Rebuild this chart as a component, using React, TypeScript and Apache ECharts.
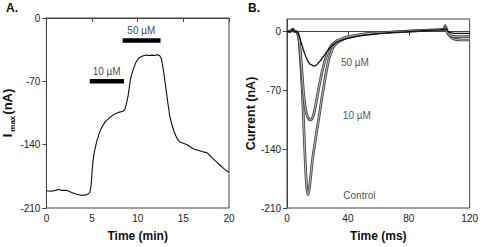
import React, { useEffect, useRef } from "react";
import * as echarts from "echarts";

// Panel A: Imax over time (min)
const timeMin = [0, 0.5, 1, 1.3, 1.7, 2.2, 2.7, 3.2, 3.8, 4.4, 4.75, 4.9, 5.0, 5.1, 5.25, 5.5, 5.8, 6.1, 6.5, 7.0, 7.5, 8.0, 8.4, 8.6, 8.8, 8.95, 9.1, 9.2, 9.35, 9.5, 9.8, 10.1, 10.4, 10.9, 11.3, 11.6, 11.9, 12.1, 12.4, 12.6, 12.85, 13.05, 13.25, 13.5, 13.75, 14.0, 14.3, 14.6, 15.0, 15.4, 15.8, 16.2, 16.7, 17.2, 17.6, 18.0, 18.5, 19.0, 19.5, 20.0];
const imax = [-191, -191.5, -190.5, -189.5, -190.5, -190.5, -192.5, -194.5, -196, -195.5, -193, -185, -170, -158, -148, -137, -127, -120, -114, -109.5, -106, -104, -103, -101, -93, -86, -75, -68, -62, -57, -49, -44.5, -42.5, -41, -41.5, -41, -41.5, -40.5, -41.5, -45, -60, -75, -90, -108, -118, -126, -133, -137, -138.5, -140, -142.5, -145, -146.5, -148, -149, -153, -158, -162.5, -167, -170.5];

// Drug application bars
const barStart = [4.75, 8.35];
const barEnd = [8.5, 12.5];
const barLevel = [-70, -25];
const barLabel = ["10 µM", "50 µM"];
const barLabelX = [6.6, 10.4];
const barLabelY = [-59, -14];

// Panel B: current traces (ms)
const timeMs = [0, 2, 3.8, 5, 6, 7, 8, 9, 10, 11, 12, 13, 14, 15, 16, 17, 18, 19, 20, 21, 22, 23, 24, 25, 26, 27, 28, 30, 32, 34, 37, 40, 45, 50, 55, 60, 70, 80, 90, 100, 103, 104, 105, 106, 108, 110, 115, 120];
const control = [0, 0, 3, 0, 0, -2, -12, -38, -70, -112, -155, -186, -194, -182, -165, -149, -137, -125, -113, -102, -90, -78, -67, -56, -46, -37, -30, -20, -15, -12, -9, -7, -5, -3.5, -2.5, -1.5, -0.5, 0.5, 1.5, 2, 3, 7, 2, -3, -7, -9, -10, -10];
const dose10 = [0, 0, 3, 0, 0, -2, -10, -28, -52, -75, -90, -99, -103, -105, -105, -102, -95, -86, -76, -66, -57, -48, -41, -34, -29, -24, -20, -15, -12, -10, -8, -6, -4.5, -3, -2, -1.5, -0.5, 0.5, 1.5, 2, 2.5, 5, 1, -3, -5, -6, -6, -6];
const dose50 = [0, 0, 3, 0, 0, -1, -5, -11, -17, -23, -28, -32.5, -36, -38.5, -39.5, -40.5, -41, -40, -38.5, -36.5, -34.5, -32, -29.5, -27, -24.5, -22, -19.5, -16, -13.5, -11.5, -9.5, -8, -6, -4.5, -3.5, -2.5, -1, 0, 1, 2, 2.5, 3.5, 1.5, 0, -1.5, -2, -2, -2];

const traceLabels = ["50 µM", "10 µM", "Control"];
const traceLabelX = [44.6, 45.9, 47.6];
const traceLabelY = [-37, -100, -195];

const yTicksB = [-210, -140, -70, 0];

const FONT = "'Liberation Sans Narrow', 'Arial Narrow', 'Liberation Sans', Arial, sans-serif";
const BOLD = "'Liberation Sans', Arial, sans-serif";
const AX = "#444";

export default function App() {
  const ref = useRef<HTMLDivElement>(null);
  useEffect(() => {
    if (!ref.current) return;
    const chart = echarts.init(ref.current, null, { renderer: "svg" });
    const axisCommon = {
      type: "value" as const,
      axisLine: { show: true, lineStyle: { color: AX, width: 1 } },
      axisTick: { show: true, inside: false, length: 4, lineStyle: { color: AX } },
      splitLine: { show: false },
      axisLabel: { fontFamily: FONT, fontSize: 10, color: "#222" },
      nameTextStyle: { fontFamily: BOLD, fontSize: 12, fontWeight: "bold" as const, color: "#111" },
    };
    const option: any = {
      animation: false,
      grid: [
        { left: 41, top: 18, width: 188, height: 191, show: true, borderColor: AX, borderWidth: 1 },
        { left: 287, top: 19, width: 189, height: 191, show: true, borderColor: AX, borderWidth: 1 },
      ],
      xAxis: [
        { ...axisCommon, gridIndex: 0, min: 0, max: 20, interval: 5, name: "Time (min)", nameLocation: "middle", nameGap: 22, axisLabel: { ...axisCommon.axisLabel, margin: 5 } },
        { ...axisCommon, gridIndex: 1, min: 0, max: 120, interval: 40, name: "Time (ms)", nameLocation: "middle", nameGap: 22, axisLabel: { ...axisCommon.axisLabel, margin: 5 } },
      ],
      yAxis: [
        {
          ...axisCommon, gridIndex: 0, min: -210, max: 0, interval: 70,
          axisLabel: { ...axisCommon.axisLabel, margin: 6 },
          name: "{a|I}{b|max}{a|(nA)}", nameLocation: "middle", nameRotate: 90, nameGap: 26,
          nameTextStyle: {
            rich: {
              a: { fontFamily: BOLD, fontSize: 13, fontWeight: "bold", color: "#111", lineHeight: 18, verticalAlign: "middle" },
              b: { fontFamily: BOLD, fontSize: 8, fontWeight: "bold", color: "#111", lineHeight: 18, verticalAlign: "bottom", padding: [0, 1, 0, 2] },
            },
          },
        },
        {
          ...axisCommon, gridIndex: 1, min: -210, max: 15, interval: 70,
          axisLabel: { ...axisCommon.axisLabel, margin: 6, customValues: yTicksB },
          axisTick: { ...axisCommon.axisTick, customValues: yTicksB },
          name: "Current (nA)", nameLocation: "middle", nameRotate: 90, nameGap: 30,
          nameTextStyle: { fontFamily: BOLD, fontSize: 12.5, fontWeight: "bold", color: "#111" },
        },
      ],
      series: [
        {
          type: "line", xAxisIndex: 0, yAxisIndex: 0, symbol: "none",
          lineStyle: { color: "#111", width: 1.1 },
          data: timeMin.map((t, i) => [t, imax[i]]),
        },
        ...barStart.map((s, i) => ({
          type: "line", xAxisIndex: 0, yAxisIndex: 0, symbol: "none",
          lineStyle: { color: "#000", width: 4.5, cap: "butt" },
          data: [[s, barLevel[i]], [barEnd[i], barLevel[i]]],
        })),
        {
          type: "scatter", xAxisIndex: 0, yAxisIndex: 0, symbolSize: 0,
          label: { show: true, position: "inside", formatter: (p: any) => p.value[2], fontFamily: FONT, fontSize: 10, color: "#111" },
          data: barLabel.map((l, i) => [barLabelX[i], barLabelY[i], l]),
        },
        {
          type: "line", xAxisIndex: 1, yAxisIndex: 1, symbol: "none", smooth: 0.3,
          lineStyle: { color: "#444", width: 2.7 },
          data: timeMs.map((t, i) => [t, control[i]]),
        },
        {
          type: "line", xAxisIndex: 1, yAxisIndex: 1, symbol: "none", smooth: 0.3,
          lineStyle: { color: "#c8c8c8", width: 0.9 },
          data: timeMs.map((t, i) => [t, control[i]]),
        },
        {
          type: "line", xAxisIndex: 1, yAxisIndex: 1, symbol: "none", smooth: 0.3,
          lineStyle: { color: "#444", width: 2.7 },
          data: timeMs.map((t, i) => [t, dose10[i]]),
        },
        {
          type: "line", xAxisIndex: 1, yAxisIndex: 1, symbol: "none", smooth: 0.3,
          lineStyle: { color: "#c8c8c8", width: 0.9 },
          data: timeMs.map((t, i) => [t, dose10[i]]),
        },
        {
          type: "line", xAxisIndex: 1, yAxisIndex: 1, symbol: "none", smooth: 0.3,
          lineStyle: { color: "#111", width: 1.3 },
          data: timeMs.map((t, i) => [t, dose50[i]]),
        },
        {
          type: "scatter", xAxisIndex: 1, yAxisIndex: 1, symbolSize: 0,
          label: { show: true, position: "inside", formatter: (p: any) => p.value[2], fontFamily: FONT, fontSize: 10, color: "#222" },
          data: traceLabels.map((l, i) => [traceLabelX[i], traceLabelY[i], l]),
        },
      ],
      graphic: [
        { type: "text", left: 6, top: 2, style: { text: "A.", fontFamily: BOLD, fontSize: 12, fontWeight: "bold", fill: "#111" } },
        { type: "text", left: 248, top: 2, style: { text: "B.", fontFamily: BOLD, fontSize: 12, fontWeight: "bold", fill: "#111" } },
      ],
    };
    chart.setOption(option);
    return () => chart.dispose();
  }, []);
  return <div ref={ref} style={{ width: 481, height: 247, position: "absolute", left: 0, top: 0 }} />;
}
